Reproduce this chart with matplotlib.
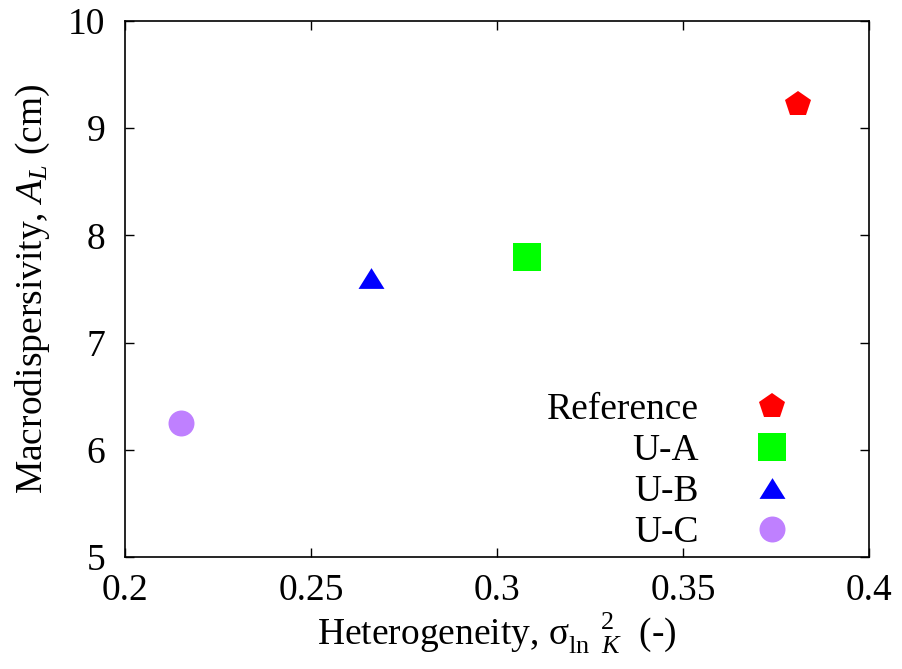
import matplotlib
matplotlib.use("Agg")
import matplotlib.pyplot as plt

# ---------------------------------------------------------------- данные
labels = ["Reference", "U-A", "U-B", "U-C"]
heterogeneity = [0.381, 0.308, 0.266, 0.215]      # sigma^2 ln K (-)
macrodisp = [9.23, 7.80, 7.60, 6.25]              # A_L (cm)

colors = ["#ff0000", "#00ff00", "#0000ff", "#bf80ff"]
tri = [(-1, -0.8), (1, -0.8), (0, 0.8)]
markers = ["p", "s", tri, "o"]
msizes = [19, 19.5, 18.7, 18.7]

# ---------------------------------------------------------------- стиль
plt.rcParams["font.family"] = ["Liberation Serif", "DejaVu Serif"]
plt.rcParams["mathtext.fontset"] = "custom"
plt.rcParams["mathtext.rm"] = "Liberation Serif"
plt.rcParams["mathtext.it"] = "Liberation Serif:italic"
plt.rcParams["font.size"] = 27

fig = plt.figure(figsize=(9.03, 6.69), dpi=100)
ax = fig.add_axes([125 / 903, 1 - 557 / 669, 744 / 903, 536 / 669])

for x, y, lab, c, m, ms in zip(heterogeneity, macrodisp, labels, colors, markers, msizes):
    ax.plot([x], [y], ls="none", marker=m, ms=ms, color=c, mew=0, label=lab)

ax.set_xlim(0.2, 0.4)
ax.set_ylim(5, 10)
ax.set_xticks([0.2, 0.25, 0.3, 0.35, 0.4], ["0.2", "0.25", "0.3", "0.35", "0.4"])
ax.set_yticks([5, 6, 7, 8, 9, 10])
ax.tick_params(direction="in", length=6.5, width=1, top=True, right=True, labelsize=27)
ax.tick_params(axis="x", pad=12)
ax.tick_params(axis="y", pad=14)
for s in ax.spines.values():
    s.set_linewidth(1.2)

ax.set_xlabel(r"Heterogeneity, σ$_{\mathrm{ln}\ \ K}^{\ \ \ \ \ 2}$  (-)", labelpad=2)
ax.set_ylabel(r"Macrodispersivity, $A_L$ (cm)", labelpad=12)

ax.legend(loc="lower right", bbox_to_anchor=(0.93, -0.036), frameon=False,
          markerfirst=False, handlelength=1.0, handletextpad=1.44,
          labelspacing=0.17, borderpad=0.2, fontsize=27)

fig.savefig("out.png", dpi=100)
